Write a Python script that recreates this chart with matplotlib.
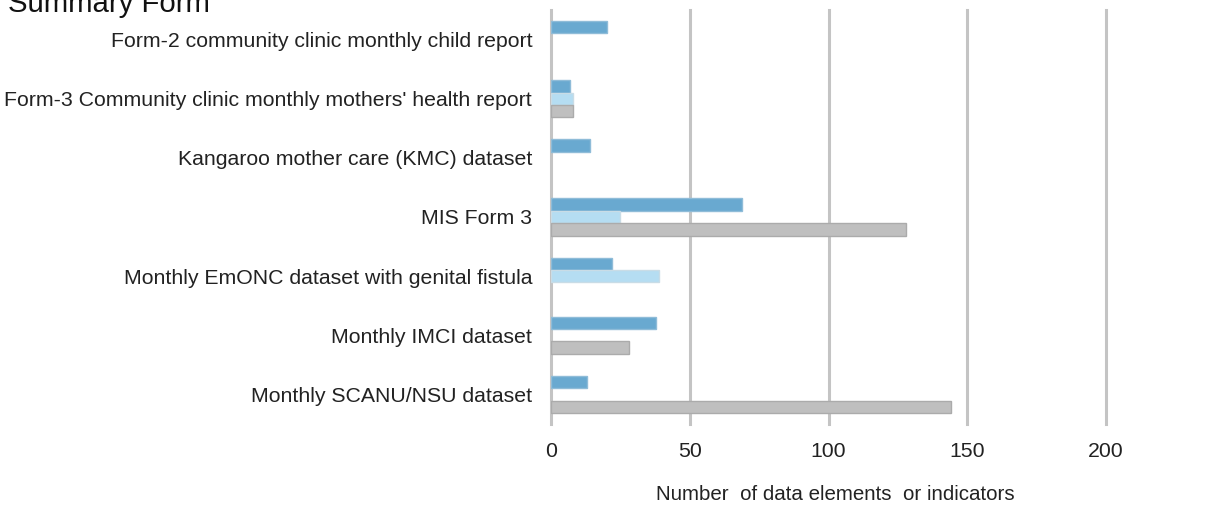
import numpy as np
import matplotlib
matplotlib.use("Agg")
import matplotlib.pyplot as plt

plt.rcParams['font.family'] = ['Liberation Sans', 'DejaVu Sans']

categories = [
    "Form-2 community clinic monthly child report",
    "Form-3 Community clinic monthly mothers' health report",
    "Kangaroo mother care (KMC) dataset",
    "MIS Form 3",
    "Monthly EmONC dataset with genital fistula",
    "Monthly IMCI dataset",
    "Monthly SCANU/NSU dataset",
]
series_a = [20, 7, 14, 69, 22, 38, 13]
series_b = [0, 8, 0, 25, 39, 0, 0]
series_c = [0, 8, 0, 128, 0, 28, 144]
xticks = [0, 50, 100, 150, 200]

fig = plt.figure(figsize=(12.07, 5.05), dpi=100)
ax = fig.add_axes([551/1207, 1 - 424/505, 555/1207, 414/505])

y = np.arange(len(categories))
h = 0.21
styles = [
    (series_a, -h, "#69A9D0", "#8FBCD8"),
    (series_b, 0, "#B5DDF2", "#C9DCE6"),
    (series_c, h, "#BFBFBF", "#ABABAB"),
]
for vals, off, col, ec in styles:
    vals = np.array(vals)
    keep = vals > 0
    ax.barh(y[keep] + off, vals[keep], height=h, color=col, edgecolor=ec, lw=1, zorder=3)

ax.set_xlim(0, 200)
ax.set_ylim(len(categories) - 0.5, -0.5)
ax.set_yticks(y)
ax.set_yticklabels(categories, fontsize=15.3, color="#222222")
ax.set_xticks(xticks)
ax.set_xticklabels([str(t) for t in xticks], fontsize=15.3, color="#222222")
ax.tick_params(axis="y", length=0, pad=13.5)
ax.tick_params(axis="x", length=0, pad=13)
ax.grid(axis="x", color="#C4C4C4", lw=2.2, zorder=0)
for gl in ax.get_xgridlines():
    gl.set_clip_on(False)
for s in ax.spines.values():
    s.set_visible(False)
ax.set_xlabel("Number  of data elements  or indicators", fontsize=14.8, color="#222222", va="center")
ax.xaxis.set_label_coords((835 - 551) / 555, -(495 - 424) / 414)

fig.text(8/1207, 1 - 12/505, "Summary Form", fontsize=21.2, va="baseline", ha="left", color="#111111")

fig.savefig("out.png", dpi=100)
